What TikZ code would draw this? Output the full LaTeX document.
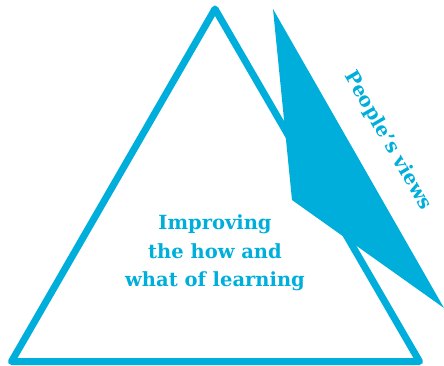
\documentclass[tikz,border=0pt]{standalone}
\usepackage{fontspec}
\setmainfont{DejaVu Serif}
\usepackage{tikz}
\definecolor{learnblue}{RGB}{0,174,219}
\tikzset{label text/.style={text=learnblue, font=\bfseries\fontsize{19.5}{28.5}\selectfont, align=center}}

\begin{document}
\begin{tikzpicture}[x=1pt, y=-1pt]
\useasboundingbox (0,0) rectangle (444,366);
\draw[learnblue, line width=7pt, line join=round] (215,9)--(11.5,361.5)--(419.5,361.5)--cycle;
\fill[learnblue] (273,9)--(292,200)--(444,308)--cycle;

\node[label text] (centre) at (215,253) {Improving\\the how and\\what of learning};
\node[label text, font=\bfseries\fontsize{19.5}{20}\selectfont, rotate=-60] (views) at (388,141) {People’s views};
\end{tikzpicture}
\end{document}
